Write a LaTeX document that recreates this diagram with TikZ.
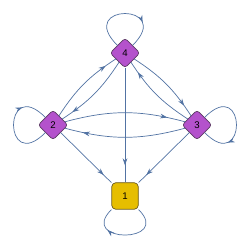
\documentclass[tikz,border=0pt]{standalone}
\usepackage{fontspec}
\setmainfont{Liberation Sans}
\usetikzlibrary{arrows.meta, shapes.geometric, decorations.markings}
\definecolor{cpurple}{HTML}{B452CC}
\definecolor{cyellow}{HTML}{E6BE00}
\definecolor{cedge}{HTML}{5273A3}
\definecolor{cvline}{HTML}{5B3A63}
\definecolor{csline}{HTML}{6B5A1E}
\tikzset{
  every picture/.style={line width=0.8pt},
  vert/.style={diamond, draw=cvline, fill=cpurple, rounded corners=1.2mm, minimum width=12mm, minimum height=12mm, inner sep=0pt, font=\fontsize{11}{11}\selectfont},
  sink/.style={rectangle, draw=csline, fill=cyellow, rounded corners=1.6mm, minimum size=10.6mm, inner sep=0pt, font=\fontsize{11}{11}\selectfont},
  edge/.style={draw=cedge, color=cedge, line width=0.8pt},
  arr/.style={postaction={decorate}, decoration={markings, mark=at position #1 with {\arrow{Stealth[length=2.8mm, width=1.9mm]}}}},
  arr/.default=0.85,
}

\begin{document}
\begin{tikzpicture}[x=0.4mm, y=0.4mm]
  \useasboundingbox (0,0) rectangle (250,250);
  % vertices
  \node[vert] (n4) at (125,197) {4};
  \node[vert] (n2) at (53,125) {2};
  \node[vert] (n3) at (197,125) {3};
  \node[sink] (n1) at (125,54) {1};
  % self loops
  \draw[edge, arr=0.72] (n4.135) .. controls +(135:60) and +(45:60) .. (n4.45);
  \draw[edge, arr=0.72] (n2.225) .. controls +(225:60) and +(135:60) .. (n2.135);
  \draw[edge, arr=0.72] (n3.45) .. controls +(45:60) and +(-45:60) .. (n3.-45);
  \draw[edge, arr=0.72] (n1.-45) .. controls +(-45:48) and +(-135:48) .. (n1.-135);
  % into the sink
  \draw[edge, arr] (n4) -- (n1);
  \draw[edge, arr] (n2) -- (n1);
  \draw[edge, arr] (n3) -- (n1);
  % pairs both ways
  \draw[edge, arr] (n2) to[bend left=15] (n3);
  \draw[edge, arr] (n3) to[bend left=15] (n2);
  \draw[edge, arr] (n2) to[bend left=12] (n4);
  \draw[edge, arr] (n4) to[bend left=12] (n2);
  \draw[edge, arr] (n4) to[bend left=12] (n3);
  \draw[edge, arr] (n3) to[bend left=12] (n4);
\end{tikzpicture}
\end{document}
